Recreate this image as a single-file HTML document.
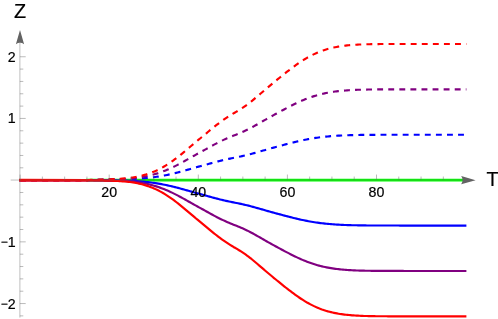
<!DOCTYPE html>
<html><head><meta charset="utf-8"><title>Plot</title>
<style>html,body{margin:0;padding:0;background:#fff;}body{width:498px;height:319px;position:relative;overflow:hidden;}</style>
</head><body>
<svg width="498" height="319" viewBox="0 0 498 319" style="position:absolute;left:0;top:0;will-change:transform">
<path d="M19.00 180.15 L90.00 180.15" stroke="#00ff00" stroke-width="1.9" fill="none"/>
<path d="M86.00 180.10 L463.00 180.10" stroke="#00ff00" stroke-width="2.6" fill="none"/>
<path d="M19.00 180.15 L20.50 180.15 L22.00 180.15 L23.50 180.15 L25.00 180.15 L26.50 180.15 L28.00 180.15 L29.50 180.15 L31.00 180.15 L32.50 180.15 L34.00 180.15 L35.50 180.15 L37.00 180.15 L38.50 180.15 L40.00 180.15 L41.50 180.15 L43.00 180.15 L44.50 180.15 L46.00 180.15 L47.50 180.15 L49.00 180.15 L50.50 180.15 L52.00 180.15 L53.50 180.15 L55.00 180.15 L56.50 180.15 L58.00 180.15 L59.50 180.15 L61.00 180.15 L62.50 180.15 L64.00 180.15 L65.50 180.15 L67.00 180.15 L68.50 180.15 L70.00 180.15 L71.50 180.15 L73.00 180.15 L74.50 180.16 L76.00 180.16 L77.50 180.17 L79.00 180.17 L80.50 180.18 L82.00 180.18 L83.50 180.19 L85.00 180.19 L86.50 180.20 L88.00 180.20 L89.50 180.21 L91.00 180.22 L92.50 180.22 L94.00 180.23 L95.50 180.24 L97.00 180.25 L98.50 180.25 L100.00 180.26 L101.50 180.27 L103.00 180.28 L104.50 180.29 L106.00 180.30 L107.50 180.31 L109.00 180.32 L110.50 180.34 L112.00 180.36 L113.50 180.38 L115.00 180.40 L116.50 180.42 L118.00 180.45 L119.50 180.48 L121.00 180.51 L122.50 180.54 L124.00 180.57 L125.50 180.62 L127.00 180.66 L128.50 180.71 L130.00 180.77 L131.50 180.84 L133.00 180.91 L134.50 180.99 L136.00 181.08 L137.50 181.18 L139.00 181.29 L140.50 181.41 L142.00 181.53 L143.50 181.67 L145.00 181.82 L146.50 181.97 L148.00 182.14 L149.50 182.32 L151.00 182.50 L152.50 182.71 L154.00 182.92 L155.50 183.14 L157.00 183.38 L158.50 183.63 L160.00 183.89 L161.50 184.16 L163.00 184.45 L164.50 184.74 L166.00 185.05 L167.50 185.37 L169.00 185.71 L170.50 186.05 L172.00 186.40 L173.50 186.76 L175.00 187.14 L176.50 187.52 L178.00 187.91 L179.50 188.31 L181.00 188.71 L182.50 189.12 L184.00 189.54 L185.50 189.96 L187.00 190.38 L188.50 190.80 L190.00 191.22 L191.50 191.65 L193.00 192.07 L194.50 192.49 L196.00 192.92 L197.50 193.33 L199.00 193.75 L200.50 194.15 L202.00 194.56 L203.50 194.97 L205.00 195.38 L206.50 195.79 L208.00 196.22 L209.50 196.65 L211.00 197.07 L212.50 197.48 L214.00 197.88 L215.50 198.27 L217.00 198.66 L218.50 199.04 L220.00 199.42 L221.50 199.78 L223.00 200.14 L224.50 200.49 L226.00 200.83 L227.50 201.16 L229.00 201.48 L230.50 201.80 L232.00 202.11 L233.50 202.41 L235.00 202.70 L236.50 202.98 L238.00 203.28 L239.50 203.60 L241.00 203.92 L242.50 204.24 L244.00 204.58 L245.50 204.93 L247.00 205.29 L248.50 205.66 L250.00 206.03 L251.50 206.42 L253.00 206.84 L254.50 207.27 L256.00 207.70 L257.50 208.12 L259.00 208.54 L260.50 208.97 L262.00 209.39 L263.50 209.82 L265.00 210.25 L266.50 210.68 L268.00 211.11 L269.50 211.53 L271.00 211.95 L272.50 212.37 L274.00 212.79 L275.50 213.19 L277.00 213.59 L278.50 213.99 L280.00 214.40 L281.50 214.81 L283.00 215.21 L284.50 215.62 L286.00 216.01 L287.50 216.40 L289.00 216.78 L290.50 217.16 L292.00 217.54 L293.50 217.92 L295.00 218.29 L296.50 218.65 L298.00 219.00 L299.50 219.35 L301.00 219.68 L302.50 220.01 L304.00 220.32 L305.50 220.63 L307.00 220.92 L308.50 221.20 L310.00 221.48 L311.50 221.74 L313.00 221.99 L314.50 222.22 L316.00 222.45 L317.50 222.67 L319.00 222.87 L320.50 223.07 L322.00 223.25 L323.50 223.43 L325.00 223.59 L326.50 223.74 L328.00 223.89 L329.50 224.02 L331.00 224.15 L332.50 224.27 L334.00 224.38 L335.50 224.48 L337.00 224.58 L338.50 224.67 L340.00 224.75 L341.50 224.82 L343.00 224.89 L344.50 224.96 L346.00 225.01 L347.50 225.07 L349.00 225.12 L350.50 225.16 L352.00 225.20 L353.50 225.24 L355.00 225.27 L356.50 225.30 L358.00 225.33 L359.50 225.35 L361.00 225.38 L362.50 225.40 L364.00 225.42 L365.50 225.43 L367.00 225.45 L368.50 225.46 L370.00 225.47 L371.50 225.48 L373.00 225.49 L374.50 225.50 L376.00 225.50 L377.50 225.51 L379.00 225.51 L380.50 225.52 L382.00 225.52 L383.50 225.53 L385.00 225.53 L386.50 225.53 L388.00 225.54 L389.50 225.54 L391.00 225.54 L392.50 225.54 L394.00 225.54 L395.50 225.54 L397.00 225.54 L398.50 225.55 L400.00 225.55 L401.50 225.55 L403.00 225.55 L404.50 225.55 L406.00 225.55 L407.50 225.55 L409.00 225.55 L410.50 225.55 L412.00 225.55 L413.50 225.55 L415.00 225.55 L416.50 225.55 L418.00 225.55 L419.50 225.55 L421.00 225.55 L422.50 225.55 L424.00 225.55 L425.50 225.55 L427.00 225.55 L428.50 225.55 L430.00 225.55 L431.50 225.55 L433.00 225.55 L434.50 225.55 L436.00 225.55 L437.50 225.55 L439.00 225.55 L440.50 225.55 L442.00 225.55 L443.50 225.55 L445.00 225.55 L446.50 225.55 L448.00 225.55 L449.50 225.55 L451.00 225.55 L452.50 225.55 L454.00 225.55 L455.50 225.55 L457.00 225.55 L458.50 225.55 L460.00 225.55 L461.50 225.55 L463.00 225.55 L464.50 225.55 L466.40 225.55" fill="none" stroke="#0000ff" stroke-width="2.15" stroke-linejoin="round"/>
<path d="M20.10 180.15 L21.60 180.15 L23.10 180.15 L24.60 180.15 L26.10 180.15 L27.60 180.15 L29.10 180.15 L30.60 180.15 L32.10 180.15 L33.60 180.15 L35.10 180.15 L36.60 180.15 L38.10 180.15 L39.60 180.15 L41.10 180.15 L42.60 180.15 L44.10 180.15 L45.60 180.15 L47.10 180.15 L48.60 180.15 L50.10 180.15 L51.60 180.15 L53.10 180.15 L54.60 180.15 L56.10 180.15 L57.60 180.15 L59.10 180.15 L60.60 180.15 L62.10 180.15 L63.60 180.15 L65.10 180.15 L66.60 180.15 L68.10 180.15 L69.60 180.15 L71.10 180.15 L72.60 180.15 L74.10 180.14 L75.60 180.14 L77.10 180.14 L78.60 180.13 L80.10 180.13 L81.60 180.12 L83.10 180.11 L84.60 180.11 L86.10 180.10 L87.60 180.09 L89.10 180.07 L90.60 180.05 L92.10 180.02 L93.60 179.99 L95.10 179.96 L96.60 179.93 L98.10 179.90 L99.60 179.87 L101.10 179.84 L102.60 179.81 L104.10 179.78 L105.60 179.75 L107.10 179.72 L108.60 179.69 L110.10 179.65 L111.60 179.61 L113.10 179.58 L114.60 179.54 L116.10 179.50 L117.60 179.46 L119.10 179.43 L120.60 179.40 L122.10 179.37 L123.60 179.34 L125.10 179.30 L126.60 179.25 L128.10 179.20 L129.60 179.15 L131.10 179.08 L132.60 179.01 L134.10 178.93 L135.60 178.84 L137.10 178.74 L138.60 178.64 L140.10 178.52 L141.60 178.40 L143.10 178.28 L144.60 178.15 L146.10 178.01 L147.60 177.87 L149.10 177.72 L150.60 177.56 L152.10 177.39 L153.60 177.20 L155.10 177.01 L156.60 176.79 L158.10 176.57 L159.60 176.33 L161.10 176.07 L162.60 175.81 L164.10 175.53 L165.60 175.24 L167.10 174.93 L168.60 174.62 L170.10 174.29 L171.60 173.96 L173.10 173.61 L174.60 173.25 L176.10 172.87 L177.60 172.49 L179.10 172.10 L180.60 171.70 L182.10 171.29 L183.60 170.88 L185.10 170.46 L186.60 170.04 L188.10 169.61 L189.60 169.19 L191.10 168.77 L192.60 168.34 L194.10 167.92 L195.60 167.50 L197.10 167.08 L198.60 166.66 L200.10 166.25 L201.60 165.85 L203.10 165.44 L204.60 165.03 L206.10 164.62 L207.60 164.19 L209.10 163.76 L210.60 163.34 L212.10 162.93 L213.60 162.53 L215.10 162.13 L216.60 161.74 L218.10 161.36 L219.60 160.98 L221.10 160.61 L222.60 160.25 L224.10 159.90 L225.60 159.56 L227.10 159.23 L228.60 158.91 L230.10 158.59 L231.60 158.27 L233.10 157.97 L234.60 157.68 L236.10 157.40 L237.60 157.10 L239.10 156.79 L240.60 156.47 L242.10 156.14 L243.60 155.81 L245.10 155.47 L246.60 155.11 L248.10 154.74 L249.60 154.37 L251.10 153.98 L252.60 153.58 L254.10 153.15 L255.60 152.72 L257.10 152.30 L258.60 151.87 L260.10 151.45 L261.60 151.02 L263.10 150.59 L264.60 150.16 L266.10 149.73 L267.60 149.30 L269.10 148.88 L270.60 148.46 L272.10 148.04 L273.60 147.63 L275.10 147.21 L276.60 146.81 L278.10 146.42 L279.60 146.01 L281.10 145.60 L282.60 145.20 L284.10 144.79 L285.60 144.39 L287.10 144.00 L288.60 143.62 L290.10 143.24 L291.60 142.86 L293.10 142.48 L294.60 142.11 L296.10 141.75 L297.60 141.39 L299.10 141.04 L300.60 140.71 L302.10 140.38 L303.60 140.06 L305.10 139.75 L306.60 139.46 L308.10 139.17 L309.60 138.90 L311.10 138.63 L312.60 138.38 L314.10 138.14 L315.60 137.91 L317.10 137.69 L318.60 137.48 L320.10 137.28 L321.60 137.10 L323.10 136.92 L324.60 136.75 L326.10 136.60 L327.60 136.45 L329.10 136.31 L330.60 136.18 L332.10 136.06 L333.60 135.95 L335.10 135.84 L336.60 135.75 L338.10 135.66 L339.60 135.57 L341.10 135.50 L342.60 135.43 L344.10 135.36 L345.60 135.30 L347.10 135.25 L348.60 135.20 L350.10 135.15 L351.60 135.11 L353.10 135.07 L354.60 135.04 L356.10 135.00 L357.60 134.98 L359.10 134.95 L360.60 134.93 L362.10 134.91 L363.60 134.89 L365.10 134.87 L366.60 134.86 L368.10 134.85 L369.60 134.83 L371.10 134.82 L372.60 134.81 L374.10 134.81 L375.60 134.80 L377.10 134.79 L378.60 134.79 L380.10 134.78 L381.60 134.78 L383.10 134.77 L384.60 134.77 L386.10 134.77 L387.60 134.77 L389.10 134.76 L390.60 134.76 L392.10 134.76 L393.60 134.76 L395.10 134.76 L396.60 134.76 L398.10 134.75 L399.60 134.75 L401.10 134.75 L402.60 134.75 L404.10 134.75 L405.60 134.75 L407.10 134.75 L408.60 134.75 L410.10 134.75 L411.60 134.75 L413.10 134.75 L414.60 134.75 L416.10 134.75 L417.60 134.75 L419.10 134.75 L420.60 134.75 L422.10 134.75 L423.60 134.75 L425.10 134.75 L426.60 134.75 L428.10 134.75 L429.60 134.75 L431.10 134.75 L432.60 134.75 L434.10 134.75 L435.60 134.75 L437.10 134.75 L438.60 134.75 L440.10 134.75 L441.60 134.75 L443.10 134.75 L444.60 134.75 L446.10 134.75 L447.60 134.75 L449.10 134.75 L450.60 134.75 L452.10 134.75 L453.60 134.75 L455.10 134.75 L456.60 134.75 L458.10 134.75 L459.60 134.75 L461.10 134.75 L462.60 134.75 L464.10 134.75 L466.40 134.75" fill="none" stroke="#0000ff" stroke-width="2.15" stroke-dasharray="5.9 5.175" stroke-linejoin="round"/>
<path d="M19.00 180.15 L20.50 180.15 L22.00 180.15 L23.50 180.15 L25.00 180.15 L26.50 180.15 L28.00 180.15 L29.50 180.15 L31.00 180.15 L32.50 180.15 L34.00 180.15 L35.50 180.15 L37.00 180.15 L38.50 180.15 L40.00 180.15 L41.50 180.15 L43.00 180.15 L44.50 180.15 L46.00 180.15 L47.50 180.15 L49.00 180.15 L50.50 180.15 L52.00 180.15 L53.50 180.15 L55.00 180.15 L56.50 180.15 L58.00 180.15 L59.50 180.15 L61.00 180.15 L62.50 180.15 L64.00 180.15 L65.50 180.15 L67.00 180.15 L68.50 180.15 L70.00 180.15 L71.50 180.15 L73.00 180.16 L74.50 180.17 L76.00 180.17 L77.50 180.18 L79.00 180.19 L80.50 180.20 L82.00 180.21 L83.50 180.22 L85.00 180.23 L86.50 180.24 L88.00 180.26 L89.50 180.27 L91.00 180.28 L92.50 180.30 L94.00 180.31 L95.50 180.33 L97.00 180.34 L98.50 180.36 L100.00 180.37 L101.50 180.39 L103.00 180.40 L104.50 180.42 L106.00 180.44 L107.50 180.47 L109.00 180.50 L110.50 180.53 L112.00 180.56 L113.50 180.60 L115.00 180.65 L116.50 180.70 L118.00 180.75 L119.50 180.80 L121.00 180.86 L122.50 180.93 L124.00 181.00 L125.50 181.08 L127.00 181.17 L128.50 181.28 L130.00 181.39 L131.50 181.52 L133.00 181.67 L134.50 181.84 L136.00 182.02 L137.50 182.22 L139.00 182.43 L140.50 182.67 L142.00 182.92 L143.50 183.19 L145.00 183.48 L146.50 183.79 L148.00 184.13 L149.50 184.48 L151.00 184.86 L152.50 185.26 L154.00 185.69 L155.50 186.13 L157.00 186.61 L158.50 187.10 L160.00 187.63 L161.50 188.17 L163.00 188.74 L164.50 189.34 L166.00 189.96 L167.50 190.60 L169.00 191.26 L170.50 191.95 L172.00 192.65 L173.50 193.38 L175.00 194.12 L176.50 194.89 L178.00 195.67 L179.50 196.46 L181.00 197.27 L182.50 198.09 L184.00 198.92 L185.50 199.76 L187.00 200.60 L188.50 201.45 L190.00 202.30 L191.50 203.15 L193.00 203.99 L194.50 204.84 L196.00 205.68 L197.50 206.52 L199.00 207.34 L200.50 208.16 L202.00 208.97 L203.50 209.79 L205.00 210.60 L206.50 211.44 L208.00 212.29 L209.50 213.15 L211.00 213.98 L212.50 214.80 L214.00 215.61 L215.50 216.40 L217.00 217.17 L218.50 217.93 L220.00 218.68 L221.50 219.42 L223.00 220.14 L224.50 220.83 L226.00 221.51 L227.50 222.16 L229.00 222.81 L230.50 223.44 L232.00 224.07 L233.50 224.67 L235.00 225.24 L236.50 225.81 L238.00 226.41 L239.50 227.04 L241.00 227.68 L242.50 228.34 L244.00 229.01 L245.50 229.70 L247.00 230.42 L248.50 231.16 L250.00 231.92 L251.50 232.70 L253.00 233.52 L254.50 234.38 L256.00 235.24 L257.50 236.08 L259.00 236.93 L260.50 237.78 L262.00 238.63 L263.50 239.49 L265.00 240.36 L266.50 241.22 L268.00 242.07 L269.50 242.91 L271.00 243.74 L272.50 244.58 L274.00 245.42 L275.50 246.24 L277.00 247.03 L278.50 247.83 L280.00 248.64 L281.50 249.46 L283.00 250.28 L284.50 251.08 L286.00 251.88 L287.50 252.65 L289.00 253.41 L290.50 254.17 L292.00 254.94 L293.50 255.69 L295.00 256.43 L296.50 257.15 L298.00 257.85 L299.50 258.54 L301.00 259.21 L302.50 259.87 L304.00 260.50 L305.50 261.11 L307.00 261.69 L308.50 262.26 L310.00 262.80 L311.50 263.32 L313.00 263.82 L314.50 264.30 L316.00 264.75 L317.50 265.19 L319.00 265.60 L320.50 265.99 L322.00 266.35 L323.50 266.70 L325.00 267.03 L326.50 267.34 L328.00 267.63 L329.50 267.90 L331.00 268.15 L332.50 268.39 L334.00 268.61 L335.50 268.82 L337.00 269.01 L338.50 269.18 L340.00 269.35 L341.50 269.50 L343.00 269.63 L344.50 269.76 L346.00 269.88 L347.50 269.99 L349.00 270.08 L350.50 270.17 L352.00 270.25 L353.50 270.33 L355.00 270.40 L356.50 270.46 L358.00 270.51 L359.50 270.56 L361.00 270.60 L362.50 270.64 L364.00 270.68 L365.50 270.71 L367.00 270.74 L368.50 270.77 L370.00 270.79 L371.50 270.81 L373.00 270.83 L374.50 270.84 L376.00 270.86 L377.50 270.87 L379.00 270.88 L380.50 270.89 L382.00 270.90 L383.50 270.90 L385.00 270.91 L386.50 270.92 L388.00 270.92 L389.50 270.93 L391.00 270.93 L392.50 270.93 L394.00 270.93 L395.50 270.94 L397.00 270.94 L398.50 270.94 L400.00 270.94 L401.50 270.94 L403.00 270.94 L404.50 270.95 L406.00 270.95 L407.50 270.95 L409.00 270.95 L410.50 270.95 L412.00 270.95 L413.50 270.95 L415.00 270.95 L416.50 270.95 L418.00 270.95 L419.50 270.95 L421.00 270.95 L422.50 270.95 L424.00 270.95 L425.50 270.95 L427.00 270.95 L428.50 270.95 L430.00 270.95 L431.50 270.95 L433.00 270.95 L434.50 270.95 L436.00 270.95 L437.50 270.95 L439.00 270.95 L440.50 270.95 L442.00 270.95 L443.50 270.95 L445.00 270.95 L446.50 270.95 L448.00 270.95 L449.50 270.95 L451.00 270.95 L452.50 270.95 L454.00 270.95 L455.50 270.95 L457.00 270.95 L458.50 270.95 L460.00 270.95 L461.50 270.95 L463.00 270.95 L464.50 270.95 L466.40 270.95" fill="none" stroke="#800080" stroke-width="2.15" stroke-linejoin="round"/>
<path d="M20.10 180.15 L21.60 180.15 L23.10 180.15 L24.60 180.15 L26.10 180.15 L27.60 180.15 L29.10 180.15 L30.60 180.15 L32.10 180.15 L33.60 180.15 L35.10 180.15 L36.60 180.15 L38.10 180.15 L39.60 180.15 L41.10 180.15 L42.60 180.15 L44.10 180.15 L45.60 180.15 L47.10 180.15 L48.60 180.15 L50.10 180.15 L51.60 180.15 L53.10 180.15 L54.60 180.15 L56.10 180.15 L57.60 180.15 L59.10 180.15 L60.60 180.15 L62.10 180.15 L63.60 180.15 L65.10 180.15 L66.60 180.15 L68.10 180.15 L69.60 180.15 L71.10 180.15 L72.60 180.14 L74.10 180.14 L75.60 180.13 L77.10 180.12 L78.60 180.11 L80.10 180.10 L81.60 180.09 L83.10 180.08 L84.60 180.07 L86.10 180.06 L87.60 180.04 L89.10 180.01 L90.60 179.98 L92.10 179.95 L93.60 179.91 L95.10 179.88 L96.60 179.84 L98.10 179.80 L99.60 179.76 L101.10 179.72 L102.60 179.68 L104.10 179.64 L105.60 179.61 L107.10 179.56 L108.60 179.52 L110.10 179.47 L111.60 179.41 L113.10 179.35 L114.60 179.29 L116.10 179.23 L117.60 179.17 L119.10 179.11 L120.60 179.05 L122.10 178.99 L123.60 178.92 L125.10 178.84 L126.60 178.75 L128.10 178.65 L129.60 178.54 L131.10 178.41 L132.60 178.27 L134.10 178.11 L135.60 177.93 L137.10 177.74 L138.60 177.52 L140.10 177.30 L141.60 177.05 L143.10 176.80 L144.60 176.52 L146.10 176.24 L147.60 175.93 L149.10 175.60 L150.60 175.25 L152.10 174.89 L153.60 174.49 L155.10 174.07 L156.60 173.63 L158.10 173.16 L159.60 172.66 L161.10 172.14 L162.60 171.59 L164.10 171.01 L165.60 170.42 L167.10 169.80 L168.60 169.15 L170.10 168.49 L171.60 167.80 L173.10 167.09 L174.60 166.36 L176.10 165.61 L177.60 164.84 L179.10 164.05 L180.60 163.25 L182.10 162.43 L183.60 161.60 L185.10 160.76 L186.60 159.92 L188.10 159.08 L189.60 158.23 L191.10 157.38 L192.60 156.53 L194.10 155.69 L195.60 154.84 L197.10 154.01 L198.60 153.18 L200.10 152.36 L201.60 151.54 L203.10 150.73 L204.60 149.92 L206.10 149.09 L207.60 148.24 L209.10 147.38 L210.60 146.54 L212.10 145.72 L213.60 144.91 L215.10 144.11 L216.60 143.33 L218.10 142.57 L219.60 141.82 L221.10 141.08 L222.60 140.35 L224.10 139.65 L225.60 138.97 L227.10 138.31 L228.60 137.66 L230.10 137.03 L231.60 136.39 L233.10 135.78 L234.60 135.21 L236.10 134.64 L237.60 134.05 L239.10 133.43 L240.60 132.79 L242.10 132.14 L243.60 131.47 L245.10 130.79 L246.60 130.07 L248.10 129.34 L249.60 128.58 L251.10 127.82 L252.60 127.00 L254.10 126.15 L255.60 125.29 L257.10 124.44 L258.60 123.59 L260.10 122.75 L261.60 121.89 L263.10 121.04 L264.60 120.17 L266.10 119.31 L267.60 118.46 L269.10 117.62 L270.60 116.78 L272.10 115.94 L273.60 115.10 L275.10 114.27 L276.60 113.48 L278.10 112.69 L279.60 111.88 L281.10 111.06 L282.60 110.24 L284.10 109.43 L285.60 108.63 L287.10 107.86 L288.60 107.09 L290.10 106.33 L291.60 105.57 L293.10 104.81 L294.60 104.07 L296.10 103.34 L297.60 102.63 L299.10 101.94 L300.60 101.26 L302.10 100.61 L303.60 99.97 L305.10 99.35 L306.60 98.76 L308.10 98.19 L309.60 97.64 L311.10 97.11 L312.60 96.61 L314.10 96.13 L315.60 95.67 L317.10 95.23 L318.60 94.81 L320.10 94.42 L321.60 94.04 L323.10 93.69 L324.60 93.36 L326.10 93.04 L327.60 92.75 L329.10 92.47 L330.60 92.21 L332.10 91.97 L333.60 91.75 L335.10 91.54 L336.60 91.34 L338.10 91.16 L339.60 91.00 L341.10 90.84 L342.60 90.70 L344.10 90.57 L345.60 90.45 L347.10 90.34 L348.60 90.24 L350.10 90.15 L351.60 90.07 L353.10 89.99 L354.60 89.92 L356.10 89.86 L357.60 89.80 L359.10 89.75 L360.60 89.71 L362.10 89.67 L363.60 89.63 L365.10 89.60 L366.60 89.57 L368.10 89.54 L369.60 89.52 L371.10 89.50 L372.60 89.48 L374.10 89.46 L375.60 89.45 L377.10 89.43 L378.60 89.42 L380.10 89.41 L381.60 89.40 L383.10 89.40 L384.60 89.39 L386.10 89.39 L387.60 89.38 L389.10 89.38 L390.60 89.37 L392.10 89.37 L393.60 89.37 L395.10 89.36 L396.60 89.36 L398.10 89.36 L399.60 89.36 L401.10 89.36 L402.60 89.36 L404.10 89.36 L405.60 89.35 L407.10 89.35 L408.60 89.35 L410.10 89.35 L411.60 89.35 L413.10 89.35 L414.60 89.35 L416.10 89.35 L417.60 89.35 L419.10 89.35 L420.60 89.35 L422.10 89.35 L423.60 89.35 L425.10 89.35 L426.60 89.35 L428.10 89.35 L429.60 89.35 L431.10 89.35 L432.60 89.35 L434.10 89.35 L435.60 89.35 L437.10 89.35 L438.60 89.35 L440.10 89.35 L441.60 89.35 L443.10 89.35 L444.60 89.35 L446.10 89.35 L447.60 89.35 L449.10 89.35 L450.60 89.35 L452.10 89.35 L453.60 89.35 L455.10 89.35 L456.60 89.35 L458.10 89.35 L459.60 89.35 L461.10 89.35 L462.60 89.35 L464.10 89.35 L466.40 89.35" fill="none" stroke="#800080" stroke-width="2.15" stroke-dasharray="5.9 5.175" stroke-linejoin="round"/>
<path d="M20.10 180.15 L21.60 180.15 L23.10 180.15 L24.60 180.15 L26.10 180.15 L27.60 180.15 L29.10 180.15 L30.60 180.15 L32.10 180.15 L33.60 180.15 L35.10 180.15 L36.60 180.15 L38.10 180.15 L39.60 180.15 L41.10 180.15 L42.60 180.15 L44.10 180.15 L45.60 180.15 L47.10 180.15 L48.60 180.15 L50.10 180.15 L51.60 180.15 L53.10 180.15 L54.60 180.15 L56.10 180.15 L57.60 180.15 L59.10 180.15 L60.60 180.15 L62.10 180.15 L63.60 180.15 L65.10 180.15 L66.60 180.15 L68.10 180.15 L69.60 180.15 L71.10 180.14 L72.60 180.14 L74.10 180.13 L75.60 180.12 L77.10 180.11 L78.60 180.09 L80.10 180.08 L81.60 180.06 L83.10 180.04 L84.60 180.03 L86.10 180.01 L87.60 179.99 L89.10 179.96 L90.60 179.92 L92.10 179.88 L93.60 179.84 L95.10 179.79 L96.60 179.74 L98.10 179.70 L99.60 179.65 L101.10 179.60 L102.60 179.56 L104.10 179.51 L105.60 179.46 L107.10 179.41 L108.60 179.35 L110.10 179.28 L111.60 179.21 L113.10 179.13 L114.60 179.05 L116.10 178.97 L117.60 178.88 L119.10 178.79 L120.60 178.71 L122.10 178.61 L123.60 178.51 L125.10 178.39 L126.60 178.25 L128.10 178.10 L129.60 177.94 L131.10 177.74 L132.60 177.53 L134.10 177.29 L135.60 177.02 L137.10 176.73 L138.60 176.41 L140.10 176.07 L141.60 175.70 L143.10 175.31 L144.60 174.90 L146.10 174.46 L147.60 173.99 L149.10 173.48 L150.60 172.95 L152.10 172.38 L153.60 171.78 L155.10 171.14 L156.60 170.47 L158.10 169.75 L159.60 168.99 L161.10 168.20 L162.60 167.37 L164.10 166.50 L165.60 165.60 L167.10 164.66 L168.60 163.69 L170.10 162.68 L171.60 161.64 L173.10 160.57 L174.60 159.47 L176.10 158.34 L177.60 157.18 L179.10 156.00 L180.60 154.80 L182.10 153.57 L183.60 152.33 L185.10 151.07 L186.60 149.81 L188.10 148.54 L189.60 147.27 L191.10 146.00 L192.60 144.72 L194.10 143.45 L195.60 142.19 L197.10 140.93 L198.60 139.69 L200.10 138.46 L201.60 137.24 L203.10 136.02 L204.60 134.80 L206.10 133.56 L207.60 132.28 L209.10 130.99 L210.60 129.73 L212.10 128.50 L213.60 127.29 L215.10 126.09 L216.60 124.92 L218.10 123.78 L219.60 122.65 L221.10 121.54 L222.60 120.45 L224.10 119.40 L225.60 118.38 L227.10 117.39 L228.60 116.42 L230.10 115.46 L231.60 114.52 L233.10 113.60 L234.60 112.74 L236.10 111.89 L237.60 111.01 L239.10 110.06 L240.60 109.11 L242.10 108.13 L243.60 107.14 L245.10 106.10 L246.60 105.03 L248.10 103.93 L249.60 102.80 L251.10 101.65 L252.60 100.43 L254.10 99.14 L255.60 97.85 L257.10 96.59 L258.60 95.32 L260.10 94.04 L261.60 92.77 L263.10 91.48 L264.60 90.19 L266.10 88.89 L267.60 87.61 L269.10 86.35 L270.60 85.09 L272.10 83.83 L273.60 82.58 L275.10 81.34 L276.60 80.14 L278.10 78.96 L279.60 77.74 L281.10 76.51 L282.60 75.29 L284.10 74.07 L285.60 72.88 L287.10 71.71 L288.60 70.56 L290.10 69.42 L291.60 68.27 L293.10 67.14 L294.60 66.03 L296.10 64.94 L297.60 63.87 L299.10 62.83 L300.60 61.82 L302.10 60.83 L303.60 59.88 L305.10 58.96 L306.60 58.07 L308.10 57.21 L309.60 56.39 L311.10 55.59 L312.60 54.84 L314.10 54.11 L315.60 53.42 L317.10 52.77 L318.60 52.14 L320.10 51.55 L321.60 50.99 L323.10 50.46 L324.60 49.96 L326.10 49.49 L327.60 49.05 L329.10 48.63 L330.60 48.24 L332.10 47.88 L333.60 47.55 L335.10 47.23 L336.60 46.94 L338.10 46.67 L339.60 46.42 L341.10 46.19 L342.60 45.98 L344.10 45.78 L345.60 45.60 L347.10 45.44 L348.60 45.29 L350.10 45.15 L351.60 45.02 L353.10 44.91 L354.60 44.81 L356.10 44.71 L357.60 44.63 L359.10 44.55 L360.60 44.49 L362.10 44.42 L363.60 44.37 L365.10 44.32 L366.60 44.28 L368.10 44.24 L369.60 44.20 L371.10 44.17 L372.60 44.14 L374.10 44.12 L375.60 44.10 L377.10 44.08 L378.60 44.06 L380.10 44.05 L381.60 44.03 L383.10 44.02 L384.60 44.01 L386.10 44.00 L387.60 44.00 L389.10 43.99 L390.60 43.98 L392.10 43.98 L393.60 43.97 L395.10 43.97 L396.60 43.97 L398.10 43.96 L399.60 43.96 L401.10 43.96 L402.60 43.96 L404.10 43.96 L405.60 43.96 L407.10 43.96 L408.60 43.95 L410.10 43.95 L411.60 43.95 L413.10 43.95 L414.60 43.95 L416.10 43.95 L417.60 43.95 L419.10 43.95 L420.60 43.95 L422.10 43.95 L423.60 43.95 L425.10 43.95 L426.60 43.95 L428.10 43.95 L429.60 43.95 L431.10 43.95 L432.60 43.95 L434.10 43.95 L435.60 43.95 L437.10 43.95 L438.60 43.95 L440.10 43.95 L441.60 43.95 L443.10 43.95 L444.60 43.95 L446.10 43.95 L447.60 43.95 L449.10 43.95 L450.60 43.95 L452.10 43.95 L453.60 43.95 L455.10 43.95 L456.60 43.95 L458.10 43.95 L459.60 43.95 L461.10 43.95 L462.60 43.95 L464.10 43.95 L466.40 43.95" fill="none" stroke="#ff0000" stroke-width="2.15" stroke-dasharray="5.9 5.175" stroke-linejoin="round"/>
<path d="M19.00 180.15 L20.50 180.15 L22.00 180.15 L23.50 180.15 L25.00 180.15 L26.50 180.15 L28.00 180.15 L29.50 180.15 L31.00 180.15 L32.50 180.15 L34.00 180.15 L35.50 180.15 L37.00 180.15 L38.50 180.15 L40.00 180.15 L41.50 180.15 L43.00 180.15 L44.50 180.15 L46.00 180.15 L47.50 180.15 L49.00 180.15 L50.50 180.15 L52.00 180.15 L53.50 180.15 L55.00 180.15 L56.50 180.15 L58.00 180.15 L59.50 180.15 L61.00 180.15 L62.50 180.15 L64.00 180.15 L65.50 180.15 L67.00 180.15 L68.50 180.15 L70.00 180.15 L71.50 180.16 L73.00 180.16 L74.50 180.17 L76.00 180.18 L77.50 180.20 L79.00 180.21 L80.50 180.23 L82.00 180.25 L83.50 180.26 L85.00 180.28 L86.50 180.29 L88.00 180.31 L89.50 180.33 L91.00 180.35 L92.50 180.37 L94.00 180.40 L95.50 180.42 L97.00 180.44 L98.50 180.46 L100.00 180.48 L101.50 180.50 L103.00 180.53 L104.50 180.56 L106.00 180.59 L107.50 180.63 L109.00 180.67 L110.50 180.72 L112.00 180.77 L113.50 180.83 L115.00 180.90 L116.50 180.97 L118.00 181.05 L119.50 181.13 L121.00 181.22 L122.50 181.31 L124.00 181.42 L125.50 181.55 L127.00 181.68 L128.50 181.84 L130.00 182.01 L131.50 182.21 L133.00 182.43 L134.50 182.68 L136.00 182.95 L137.50 183.25 L139.00 183.58 L140.50 183.93 L142.00 184.30 L143.50 184.71 L145.00 185.15 L146.50 185.62 L148.00 186.11 L149.50 186.65 L151.00 187.21 L152.50 187.82 L154.00 188.45 L155.50 189.13 L157.00 189.84 L158.50 190.58 L160.00 191.36 L161.50 192.18 L163.00 193.04 L164.50 193.93 L166.00 194.86 L167.50 195.82 L169.00 196.82 L170.50 197.84 L172.00 198.90 L173.50 199.99 L175.00 201.11 L176.50 202.26 L178.00 203.43 L179.50 204.62 L181.00 205.83 L182.50 207.06 L184.00 208.31 L185.50 209.57 L187.00 210.83 L188.50 212.10 L190.00 213.37 L191.50 214.64 L193.00 215.91 L194.50 217.18 L196.00 218.45 L197.50 219.70 L199.00 220.94 L200.50 222.16 L202.00 223.38 L203.50 224.60 L205.00 225.83 L206.50 227.08 L208.00 228.36 L209.50 229.65 L211.00 230.90 L212.50 232.13 L214.00 233.33 L215.50 234.52 L217.00 235.68 L218.50 236.82 L220.00 237.95 L221.50 239.05 L223.00 240.13 L224.50 241.17 L226.00 242.18 L227.50 243.17 L229.00 244.14 L230.50 245.09 L232.00 246.03 L233.50 246.94 L235.00 247.79 L236.50 248.64 L238.00 249.54 L239.50 250.49 L241.00 251.45 L242.50 252.43 L244.00 253.44 L245.50 254.48 L247.00 255.56 L248.50 256.67 L250.00 257.80 L251.50 258.97 L253.00 260.21 L254.50 261.50 L256.00 262.79 L257.50 264.05 L259.00 265.32 L260.50 266.60 L262.00 267.87 L263.50 269.16 L265.00 270.46 L266.50 271.75 L268.00 273.02 L269.50 274.28 L271.00 275.54 L272.50 276.80 L274.00 278.06 L275.50 279.28 L277.00 280.47 L278.50 281.66 L280.00 282.89 L281.50 284.12 L283.00 285.34 L284.50 286.55 L286.00 287.74 L287.50 288.90 L289.00 290.04 L290.50 291.18 L292.00 292.33 L293.50 293.46 L295.00 294.56 L296.50 295.65 L298.00 296.71 L299.50 297.74 L301.00 298.75 L302.50 299.72 L304.00 300.67 L305.50 301.58 L307.00 302.47 L308.50 303.31 L310.00 304.13 L311.50 304.91 L313.00 305.66 L314.50 306.37 L316.00 307.06 L317.50 307.70 L319.00 308.32 L320.50 308.90 L322.00 309.46 L323.50 309.98 L325.00 310.47 L326.50 310.93 L328.00 311.37 L329.50 311.77 L331.00 312.15 L332.50 312.51 L334.00 312.84 L335.50 313.15 L337.00 313.43 L338.50 313.70 L340.00 313.94 L341.50 314.17 L343.00 314.38 L344.50 314.57 L346.00 314.74 L347.50 314.90 L349.00 315.05 L350.50 315.18 L352.00 315.31 L353.50 315.42 L355.00 315.52 L356.50 315.61 L358.00 315.69 L359.50 315.76 L361.00 315.83 L362.50 315.89 L364.00 315.95 L365.50 315.99 L367.00 316.04 L368.50 316.07 L370.00 316.11 L371.50 316.14 L373.00 316.17 L374.50 316.19 L376.00 316.21 L377.50 316.23 L379.00 316.24 L380.50 316.26 L382.00 316.27 L383.50 316.28 L385.00 316.29 L386.50 316.30 L388.00 316.31 L389.50 316.31 L391.00 316.32 L392.50 316.32 L394.00 316.33 L395.50 316.33 L397.00 316.33 L398.50 316.34 L400.00 316.34 L401.50 316.34 L403.00 316.34 L404.50 316.34 L406.00 316.34 L407.50 316.34 L409.00 316.35 L410.50 316.35 L412.00 316.35 L413.50 316.35 L415.00 316.35 L416.50 316.35 L418.00 316.35 L419.50 316.35 L421.00 316.35 L422.50 316.35 L424.00 316.35 L425.50 316.35 L427.00 316.35 L428.50 316.35 L430.00 316.35 L431.50 316.35 L433.00 316.35 L434.50 316.35 L436.00 316.35 L437.50 316.35 L439.00 316.35 L440.50 316.35 L442.00 316.35 L443.50 316.35 L445.00 316.35 L446.50 316.35 L448.00 316.35 L449.50 316.35 L451.00 316.35 L452.50 316.35 L454.00 316.35 L455.50 316.35 L457.00 316.35 L458.50 316.35 L460.00 316.35 L461.50 316.35 L463.00 316.35 L464.50 316.35 L466.40 316.35" fill="none" stroke="#ff0000" stroke-width="2.15" stroke-linejoin="round"/>
<path d="M19 180.15 L88 180.20" stroke="#ff0000" stroke-width="2.6" fill="none"/>
<g stroke="#666" stroke-width="0.42" fill="none">
<line x1="10.7" y1="180.05" x2="463" y2="180.05"/>
<line x1="19.90" y1="43" x2="19.90" y2="317.6"/>
</g>
<g stroke="#666" stroke-width="0.45" fill="none">
<line x1="20.10" y1="180.15" x2="20.10" y2="174.55"/>
<line x1="42.38" y1="180.15" x2="42.38" y2="176.55"/>
<line x1="64.65" y1="180.15" x2="64.65" y2="176.55"/>
<line x1="86.93" y1="180.15" x2="86.93" y2="176.55"/>
<line x1="109.20" y1="180.15" x2="109.20" y2="174.55"/>
<line x1="131.47" y1="180.15" x2="131.47" y2="176.55"/>
<line x1="153.75" y1="180.15" x2="153.75" y2="176.55"/>
<line x1="176.03" y1="180.15" x2="176.03" y2="176.55"/>
<line x1="198.30" y1="180.15" x2="198.30" y2="174.55"/>
<line x1="220.57" y1="180.15" x2="220.57" y2="176.55"/>
<line x1="242.85" y1="180.15" x2="242.85" y2="176.55"/>
<line x1="265.12" y1="180.15" x2="265.12" y2="176.55"/>
<line x1="287.40" y1="180.15" x2="287.40" y2="174.55"/>
<line x1="309.68" y1="180.15" x2="309.68" y2="176.55"/>
<line x1="331.95" y1="180.15" x2="331.95" y2="176.55"/>
<line x1="354.23" y1="180.15" x2="354.23" y2="176.55"/>
<line x1="376.50" y1="180.15" x2="376.50" y2="174.55"/>
<line x1="398.78" y1="180.15" x2="398.78" y2="176.55"/>
<line x1="421.05" y1="180.15" x2="421.05" y2="176.55"/>
<line x1="443.33" y1="180.15" x2="443.33" y2="176.55"/>
<line x1="19.90" y1="315.89" x2="23.30" y2="315.89"/>
<line x1="19.90" y1="303.55" x2="25.70" y2="303.55"/>
<line x1="19.90" y1="291.21" x2="23.30" y2="291.21"/>
<line x1="19.90" y1="278.87" x2="23.30" y2="278.87"/>
<line x1="19.90" y1="266.53" x2="23.30" y2="266.53"/>
<line x1="19.90" y1="254.19" x2="23.30" y2="254.19"/>
<line x1="19.90" y1="241.85" x2="25.70" y2="241.85"/>
<line x1="19.90" y1="229.51" x2="23.30" y2="229.51"/>
<line x1="19.90" y1="217.17" x2="23.30" y2="217.17"/>
<line x1="19.90" y1="204.83" x2="23.30" y2="204.83"/>
<line x1="19.90" y1="192.49" x2="23.30" y2="192.49"/>
<line x1="19.90" y1="167.81" x2="23.30" y2="167.81"/>
<line x1="19.90" y1="155.47" x2="23.30" y2="155.47"/>
<line x1="19.90" y1="143.13" x2="23.30" y2="143.13"/>
<line x1="19.90" y1="130.79" x2="23.30" y2="130.79"/>
<line x1="19.90" y1="118.45" x2="25.70" y2="118.45"/>
<line x1="19.90" y1="106.11" x2="23.30" y2="106.11"/>
<line x1="19.90" y1="93.77" x2="23.30" y2="93.77"/>
<line x1="19.90" y1="81.43" x2="23.30" y2="81.43"/>
<line x1="19.90" y1="69.09" x2="23.30" y2="69.09"/>
<line x1="19.90" y1="56.75" x2="25.70" y2="56.75"/>
</g>
<path d="M20 30 L24.1 44.2 Q20 41.3 15.9 44.2 Z" fill="#636363"/>
<path d="M475.6 180.15 L461.2 176.05 Q464 180.15 461.2 184.25 Z" fill="#636363"/>
<g font-family="Liberation Sans, Arial, sans-serif" fill="#000" stroke="#000" stroke-width="0.2">
<g font-size="14.2px" text-anchor="middle">
<text x="109.20" y="196.9">20</text>
<text x="198.30" y="196.9">40</text>
<text x="287.40" y="196.9">60</text>
<text x="376.50" y="196.9">80</text>
</g>
<g font-size="14.2px" text-anchor="end">
<text x="15.7" y="61.75">2</text>
<text x="15.7" y="123.45">1</text>
<text x="15.7" y="246.85"><tspan font-size="12px" dy="-0.6">−</tspan><tspan dy="0.6">1</tspan></text>
<text x="15.7" y="308.55"><tspan font-size="12px" dy="-0.6">−</tspan><tspan dy="0.6">2</tspan></text>
</g>
<text x="13.9" y="17.7" font-size="19.5px" textLength="12.1" lengthAdjust="spacingAndGlyphs">Z</text>
<text x="486.6" y="186.4" font-size="19.5px">T</text>
</g>
</svg>
</body></html>
